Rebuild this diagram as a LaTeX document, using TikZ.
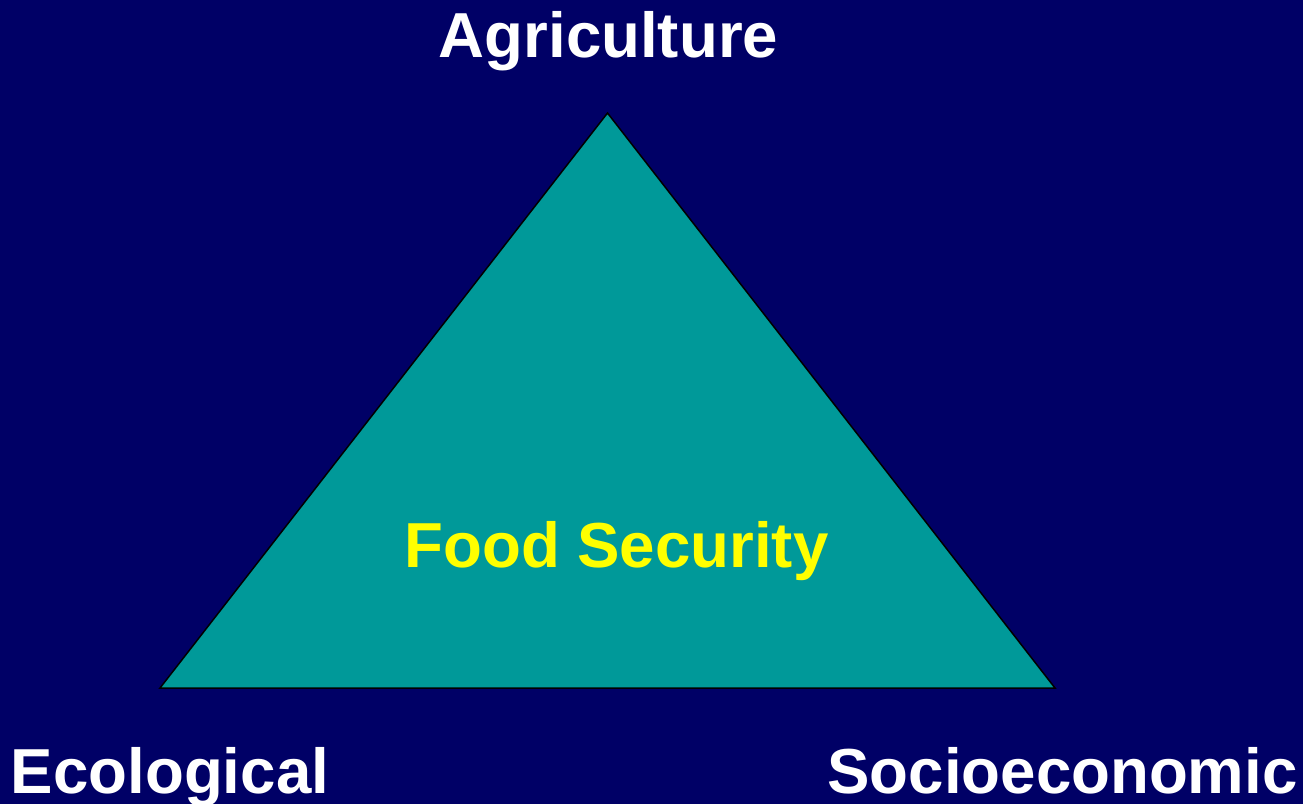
\documentclass[tikz,border=0pt]{standalone}
\usepackage{fontspec}
\setmainfont{Liberation Sans}
\definecolor{bgnavy}{RGB}{0,0,102}
\definecolor{triteal}{RGB}{0,153,153}
\definecolor{labyellow}{RGB}{255,255,0}
\begin{document}
\begin{tikzpicture}[x=1pt,y=-1pt,
  lab/.style={inner sep=0pt,anchor=base,font=\fontsize{63.6}{70}\selectfont\bfseries},
  corner/.style={lab,text=white},
  centre/.style={lab,text=labyellow}]
\fill[bgnavy] (0,0) rectangle (1303,804);
\useasboundingbox (0,0) rectangle (1303,804);
\coordinate (apex) at (607.5,113);
\coordinate (bl) at (160,688);
\coordinate (br) at (1055,688);
\filldraw[fill=triteal,draw=black,line width=1.5pt,line join=miter] (apex) -- (br) -- (bl) -- cycle;
\node[corner] (agri) at (608.5,57) {Agriculture};
\node[corner] (eco) at (170,793) {Ecological};
\node[corner] (socio) at (1062.5,793) {Socioeconomic};
\node[centre] (food) at (616.5,567) {Food Security};
\end{tikzpicture}
\end{document}
